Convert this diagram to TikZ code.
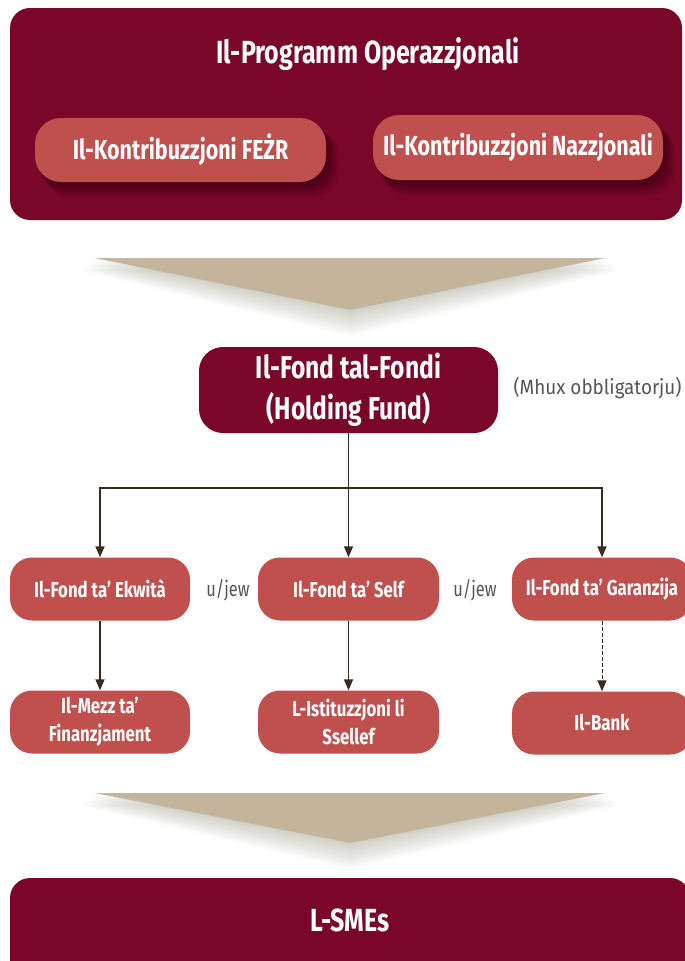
\documentclass[tikz,border=0pt]{standalone}
\usepackage{fontspec}
\setmainfont{Fira Sans}
\newfontfamily\cond{Fira Sans}[FakeStretch=0.78]
\newfontfamily\plainf{Fira Sans}[FakeStretch=0.92]
\usetikzlibrary{arrows.meta}
\definecolor{maroon}{HTML}{7A0629}
\definecolor{nodered}{HTML}{C0504D}
\definecolor{tan}{HTML}{C4B49C}
\definecolor{connbrown}{HTML}{3B2A1E}
\definecolor{shadowc}{HTML}{8E9076}
\definecolor{labgray}{HTML}{555555}
\tikzset{
  bigbox/.style={fill=maroon, rounded corners=20pt, inner sep=0pt},
  salmonbox/.style={fill=nodered, rounded corners=26pt, inner sep=0pt, text=white,
     font=\cond\bfseries\fontsize{27.5}{30}\selectfont},
  fundbox/.style={fill=maroon, rounded corners=24pt, inner sep=0pt, text=white, align=center,
     font=\cond\bfseries\fontsize{31.5}{41}\selectfont},
  redbox/.style={fill=nodered, rounded corners=22pt, inner sep=0pt, text=white, align=center,
     minimum width=180pt, minimum height=63pt,
     font=\cond\bfseries\fontsize{21.5}{28}\selectfont},
  titletext/.style={text=white, font=\cond\bfseries\fontsize{32}{36}\selectfont},
  gray label/.style={text=labgray, font=\cond\fontsize{21}{24}\selectfont},
  conn/.style={draw=connbrown, line width=1.5pt, -{Triangle[length=11pt,width=9pt]}},
  connline/.style={draw=connbrown, line width=1.5pt},
}
\begin{document}
\begin{tikzpicture}[x=1pt,y=-1pt]
\useasboundingbox (0,0) rectangle (685,961);
\fill[white] (0,0) rectangle (685,961);

% top programme box
\node[bigbox, minimum width=672pt, minimum height=212pt] (prog) at (346,114) {};
\node[titletext] (progtitle) at (368,54) {Il-Programm Operazzjonali};
% shadows of the two contribution boxes
\foreach \i in {1,...,6}{
  \fill[black, opacity=0.07, rounded corners=26pt] (35+\i*1.5,118+\i*2) rectangle (326+\i*2,182+\i*2.5);
  \fill[black, opacity=0.07, rounded corners=26pt] (373+\i*1.5,115+\i*2) rectangle (663+\i*2,180+\i*2.5);
}
\node[salmonbox, minimum width=291pt, minimum height=64pt] (fezr) at (180.5,150) {Il-Kontribuzzjoni FEŻR};
\node[salmonbox, minimum width=290pt, minimum height=65pt] (nazz) at (518,147.5) {Il-Kontribuzzjoni Nazzjonali};

% first big arrow with soft shadow
\foreach \i in {1,...,10}{
  \fill[shadowc, opacity=0.045] (95-\i*1.5,258+\i*1.2) -- (605+\i*1.5,258+\i*1.2) -- (350,310+\i*2.6) -- cycle;
}
\fill[tan] (95,258) -- (605,258) -- (350,310) -- cycle;

% holding fund
\node[fundbox, minimum width=299pt, minimum height=86pt] (hf) at (348.5,390) {Il-Fond tal-Fondi\\(Holding Fund)};
\node[anchor=west, text=labgray, font=\plainf\fontsize{20.5}{24}\selectfont] (mhux) at (510,388) {(Mhux obbligatorju)};

% middle row
\node[redbox] (m1) at (100,589) {Il-Fond ta’ Ekwità};
\node[redbox, minimum width=181pt] (m2) at (348.5,589) {Il-Fond ta’ Self};
\node[redbox, minimum width=180pt] (m3) at (602,589) {Il-Fond ta’ Garanzija};
\node[gray label] (uj1) at (228,590) {u/jew};
\node[gray label] (uj2) at (475,590) {u/jew};

% bottom row
\node[redbox] (b1) at (100,722) {Il-Mezz ta’\\Finanzjament};
\node[redbox, minimum width=181pt] (b2) at (348.5,722) {L-Istituzzjoni li\\Ssellef};
\node[redbox, minimum width=180pt] (b3) at (602,723) {Il-Bank};

% connectors
\coordinate (split) at (348.5,488);
\draw[connline] (hf.south) -- (split);
\draw[conn] (split) -| (m1.north);
\draw[conn] (split) -| (m3.north);
\draw[conn] (split) -- (m2.north);
\draw[conn] (m1.south) -- (b1.north);
\draw[conn] (m2.south) -- (b2.north);
\draw[conn, dash pattern=on 4pt off 2pt, line width=1pt] (m3.south) -- (b3.north);

% second big arrow
\foreach \i in {1,...,10}{
  \fill[shadowc, opacity=0.045] (95-\i*1.5,793+\i*1.2) -- (605+\i*1.5,793+\i*1.2) -- (350,843+\i*2.6) -- cycle;
}
\fill[tan] (95,793) -- (605,793) -- (350,843) -- cycle;

% SMEs
\node[bigbox, minimum width=680pt, minimum height=110pt] (smes) at (350,933) {};
\node[titletext, font=\cond\bfseries\fontsize{32}{36}\selectfont] (smetext) at (350,920) {L-SMEs};
\end{tikzpicture}
\end{document}
